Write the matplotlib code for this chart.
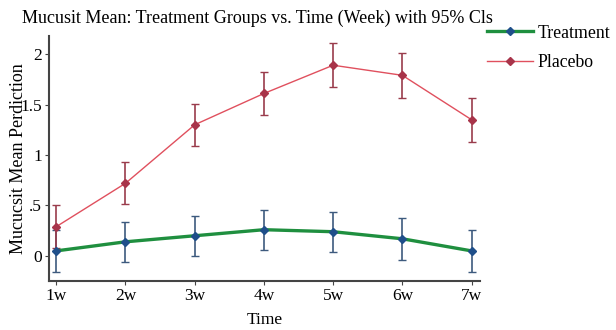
import matplotlib.pyplot as plt
import numpy as np

weeks = ['1w', '2w', '3w', '4w', '5w', '6w', '7w']
treatment = [0.05, 0.14, 0.20, 0.26, 0.24, 0.17, 0.05]
treatment_ci = [0.21, 0.20, 0.20, 0.20, 0.20, 0.21, 0.21]
placebo = [0.29, 0.72, 1.30, 1.61, 1.89, 1.79, 1.35]
placebo_ci = [0.21, 0.21, 0.21, 0.21, 0.22, 0.22, 0.22]

plt.rcParams['font.family'] = ['Liberation Serif', 'DejaVu Serif']

x = np.arange(1, len(weeks) + 1)

fig = plt.figure(figsize=(6.16, 3.30), dpi=100)
ax = fig.add_axes([0.079, 0.148, 0.700, 0.743])

# error bars first, lines on top
ax.errorbar(x, treatment, yerr=treatment_ci, fmt='none', ecolor='#3d5a7e',
            elinewidth=1.2, capsize=3, capthick=1.0, zorder=2)
ax.errorbar(x, placebo, yerr=placebo_ci, fmt='none', ecolor='#9a3c4c',
            elinewidth=1.2, capsize=3, capthick=1.0, zorder=2)

ax.plot(x, treatment, color='#1f8f3f', linewidth=2.4, zorder=3,
        marker='D', markersize=4, markerfacecolor='#1f4f8a',
        markeredgecolor='#1f4f8a', label='Treatment')
ax.plot(x, placebo, color='#e0505e', linewidth=1.0, zorder=3,
        marker='D', markersize=4, markerfacecolor='#a8344a',
        markeredgecolor='#a8344a', label='Placebo')

ax.set_xlim(0.89, 7.12)
ax.set_ylim(-0.25, 2.18)
ax.set_xticks(x)
ax.set_xticklabels(weeks, fontsize=12.5)
ax.set_yticks([0, 0.5, 1, 1.5, 2])
ax.set_yticklabels(['0', '.5', '1', '1.5', '2'], fontsize=12.5)
ax.tick_params(axis='both', direction='out', length=3, width=0.8,
               color='#444444', pad=2)

for side in ['top', 'right']:
    ax.spines[side].set_visible(False)
for side in ['left', 'bottom']:
    ax.spines[side].set_color('#444444')
    ax.spines[side].set_linewidth(1.5)

ax.set_xlabel('Time', fontsize=12.5, labelpad=6)
ax.set_ylabel('Mucucsit Mean Perdiction', fontsize=13, labelpad=-5)

fig.text(0.036, 0.945, 'Mucusit Mean: Treatment Groups vs. Time (Week) with 95% Cls',
         fontsize=13, ha='left', va='center')

ax.legend(loc='upper left', bbox_to_anchor=(1.0, 1.075), frameon=False,
          fontsize=12.8, handlelength=2.6, handletextpad=0.25, labelspacing=0.7,
          borderaxespad=0)

plt.savefig('out.png', dpi=100)
plt.close()
